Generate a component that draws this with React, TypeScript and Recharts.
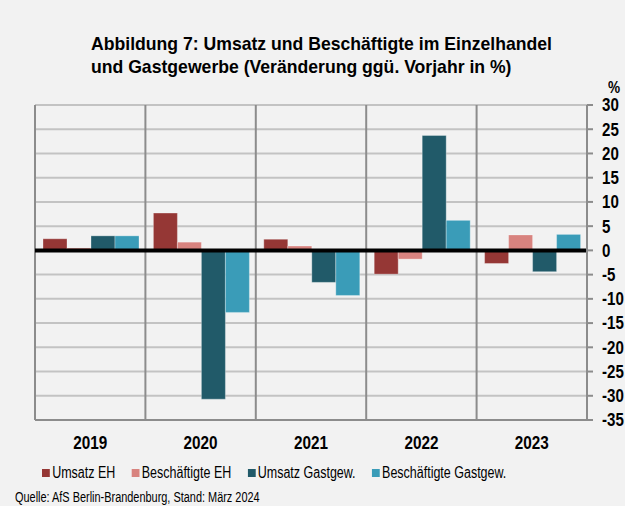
import React from "react";
import { BarChart, Bar, XAxis, YAxis, CartesianGrid, ReferenceLine } from "recharts";

const years = ["2019", "2020", "2021", "2022", "2023"];
const umsatzEH = [2.4, 7.7, 2.3, -4.9, -2.7];
const beschEH = [0.5, 1.7, 0.9, -1.8, 3.2];
const umsatzGG = [3.0, -30.7, -6.6, 23.7, -4.4];
const beschGG = [3.0, -12.8, -9.3, 6.2, 3.3];
const yTicks = [30, 25, 20, 15, 10, 5, 0, -5, -10, -15, -20, -25, -30, -35];

const seriesNames = ["Umsatz EH", "Beschäftigte EH", "Umsatz Gastgew.", "Beschäftigte Gastgew."];
const seriesKeys = ["uEH", "bEH", "uGG", "bGG"];
const seriesColors = ["#953735", "#d8837f", "#215a69", "#3a9cb8"];

const data = years.map((y, i) => ({
  year: y,
  uEH: umsatzEH[i],
  bEH: beschEH[i],
  uGG: umsatzGG[i],
  bGG: beschGG[i],
}));

const FONT = "'Liberation Sans', Arial, sans-serif";

const XTick = (props: any) => {
  const { x, y, payload } = props;
  return (
    <text
      transform={`translate(${x},${y}) scale(0.85,1)`}
      x={0}
      y={0}
      dy="0.71em"
      textAnchor="middle"
      fontSize={18}
      fontWeight="bold"
      fill="#000"
      fontFamily={FONT}
    >
      {payload.value}
    </text>
  );
};

const YTick = (props: any) => {
  const { x, y, payload } = props;
  return (
    <text
      transform={`translate(${x},${y}) scale(0.84,1)`}
      x={0}
      y={0}
      dy="0.355em"
      textAnchor="start"
      fontSize={18}
      fontWeight="bold"
      fill="#000"
      fontFamily={FONT}
    >
      {payload.value}
    </text>
  );
};

export default function App() {
  return (
    <div
      style={{
        position: "absolute",
        left: 0,
        top: 0,
        width: 625,
        height: 506,
        background: "#f2f2f2",
        fontFamily: FONT,
        overflow: "hidden",
      }}
    >
      <div
        style={{
          position: "absolute",
          left: 91,
          top: 32,
          fontSize: 19,
          fontWeight: "bold",
          lineHeight: "23px",
          color: "#000",
          whiteSpace: "nowrap",
          transform: "scaleX(0.927)",
          transformOrigin: "left top",
        }}
      >
        <div>Abbildung 7: Umsatz und Beschäftigte im Einzelhandel</div>
        <div>und Gastgewerbe (Veränderung ggü. Vorjahr in %)</div>
      </div>
      <div
        style={{
          position: "absolute",
          left: 608,
          top: 80,
          fontSize: 16,
          lineHeight: "16px",
          fontWeight: "bold",
          color: "#000",
          transform: "scaleX(0.85)",
          transformOrigin: "left top",
        }}
      >
        %
      </div>
      <BarChart
        width={625}
        height={506}
        data={data}
        margin={{ top: 105, left: 35, right: 0, bottom: 46 }}
        barCategoryGap={8}
        barGap={0}
      >
        <CartesianGrid stroke="#c3c3c3" strokeWidth={2} vertical={false} />
        <CartesianGrid
          stroke="#8c8c8c"
          strokeWidth={2}
          horizontal={false}
          verticalCoordinatesGenerator={({ offset }: any) =>
            years.map((_, i) => offset.left + (i * offset.width) / years.length)
          }
        />
        <XAxis
          dataKey="year"
          tickLine={false}
          tickSize={0}
          tickMargin={16}
          axisLine={{ stroke: "#8c8c8c", strokeWidth: 2 }}
          height={40}
          tick={<XTick />}
        />
        <YAxis
          orientation="right"
          domain={[-35, 30]}
          ticks={yTicks}
          interval={0}
          width={38}
          axisLine={{ stroke: "#8c8c8c", strokeWidth: 2 }}
          tickLine={{ stroke: "#8c8c8c", strokeWidth: 2 }}
          tickSize={6}
          tickMargin={9}
          tick={<YTick />}
        />
        {seriesKeys.map((k, i) => (
          <Bar
            key={k}
            dataKey={k}
            fill={seriesColors[i]}
            stroke="rgba(255,255,255,0.3)"
            strokeWidth={1}
            isAnimationActive={false}
          />
        ))}
        <ReferenceLine y={0} stroke="#000" strokeWidth={4} />
      </BarChart>
      <div
        style={{
          position: "absolute",
          left: 42,
          top: 464,
          display: "flex",
          fontSize: 16,
          color: "#000",
          whiteSpace: "nowrap",
          transform: "scaleX(0.78)",
          transformOrigin: "left top",
        }}
      >
        {seriesNames.map((n, i) => (
          <div key={n} style={{ display: "flex", alignItems: "center", marginRight: 21 }}>
            <div style={{ width: 10, height: 8, background: seriesColors[i], marginRight: 3 }} />
            <span>{n}</span>
          </div>
        ))}
      </div>
      <div
        style={{
          position: "absolute",
          left: 15,
          top: 489,
          fontSize: 14,
          color: "#000",
          whiteSpace: "nowrap",
          transform: "scaleX(0.78)",
          transformOrigin: "left top",
        }}
      >
        Quelle: AfS Berlin-Brandenburg, Stand: März 2024
      </div>
    </div>
  );
}
